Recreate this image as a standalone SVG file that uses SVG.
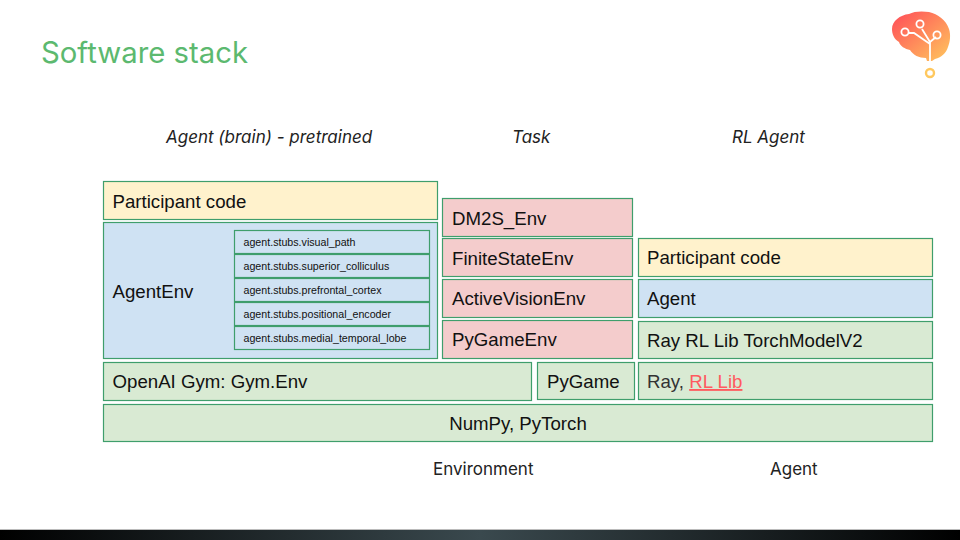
<svg xmlns="http://www.w3.org/2000/svg" width="960" height="540" viewBox="0 0 960 540">
<defs>
<style>
rect.b{stroke:#3f9e6c;stroke-width:1.2}
.y{fill:#fff2cc}.l{fill:#cfe2f3}.r{fill:#f4cccc}.g{fill:#d9ead3}
text{font-family:"Liberation Sans",Arial,sans-serif;fill:#111}
.t{font-size:18.67px}
.s{font-size:10.67px}
.i{font-family:Inter,"Open Sans",sans-serif;font-style:italic;font-size:17px;fill:#222}
.e{font-family:Inter,"Open Sans",sans-serif;font-size:17px;fill:#222}
</style>
<linearGradient id="bar" x1="0" x2="1" y1="0" y2="0"><stop offset="0" stop-color="#000"/><stop offset="0.5" stop-color="#3a494e"/><stop offset="1" stop-color="#000"/></linearGradient>
<linearGradient id="brain" x1="0" y1="0" x2="1" y2="1"><stop offset="0" stop-color="#ff4a58"/><stop offset="1" stop-color="#ffc85e"/></linearGradient>
</defs>
<rect width="960" height="540" fill="#fff"/>
<text x="41" y="63" style="font-family:Inter,'Open Sans',sans-serif;font-size:29.3px;fill:#5cb96f">Software stack</text>
<g id="logo">
<path d="M892 29C892 21 900 15 909 14C914 11 923 11 929 12C938 14 946 20 949 29C951 35 950 42 948 47C946 53 942 57 935 59L932 61L927 61L926 58C919 58 913 55 910 50C905 49 900 46 899 42C894 39 892 34 892 29Z" fill="url(#brain)"/>
<g fill="none" stroke="#fff" stroke-width="1.8">
<path d="M930 61V42L922 29M930 42L936 37M908 33H914L930 44"/>
<circle cx="905" cy="32" r="3.6"/><circle cx="920" cy="24" r="3.6"/><circle cx="937" cy="35" r="3.6"/>
</g>
<circle cx="930" cy="73" r="4" fill="none" stroke="#ffc85e" stroke-width="2.4"/>
</g>
<text class="i" x="166" y="143">Agent (brain) - pretrained</text>
<text class="i" x="512" y="143">Task</text>
<text class="i" x="732" y="143">RL Agent</text>
<g id="participant-left"><rect class="b y" x="103.500" y="181.500" width="334" height="38"/><text class="t" x="112.500" y="207.500">Participant code</text></g>
<g id="agentenv"><rect class="b l" x="103.500" y="222.500" width="334" height="136"/><text class="t" x="112.500" y="297.500">AgentEnv</text></g>
<g id="stub1"><rect class="b l" x="234.500" y="230.500" width="195" height="23"/><text class="s" x="243.500" y="246">agent.stubs.visual_path</text></g>
<g id="stub2"><rect class="b l" x="234.500" y="254.500" width="195" height="23"/><text class="s" x="243.500" y="270">agent.stubs.superior_colliculus</text></g>
<g id="stub3"><rect class="b l" x="234.500" y="278.500" width="195" height="23"/><text class="s" x="243.500" y="294">agent.stubs.prefrontal_cortex</text></g>
<g id="stub4"><rect class="b l" x="234.500" y="302.500" width="195" height="23"/><text class="s" x="243.500" y="318">agent.stubs.positional_encoder</text></g>
<g id="stub5"><rect class="b l" x="234.500" y="326.500" width="195" height="23"/><text class="s" x="243.500" y="342">agent.stubs.medial_temporal_lobe</text></g>
<g id="dm2s"><rect class="b r" x="442.500" y="198.500" width="190" height="38"/><text class="t" x="452" y="225">DM2S_Env</text></g>
<g id="finite"><rect class="b r" x="442.500" y="238.500" width="190" height="38"/><text class="t" x="452" y="265">FiniteStateEnv</text></g>
<g id="active"><rect class="b r" x="442.500" y="279.500" width="190" height="38"/><text class="t" x="452" y="305">ActiveVisionEnv</text></g>
<g id="pygameenv"><rect class="b r" x="442.500" y="320.500" width="190" height="38"/><text class="t" x="452" y="346">PyGameEnv</text></g>
<g id="participant-right"><rect class="b y" x="638.500" y="238.500" width="294" height="38"/><text class="t" x="647" y="264">Participant code</text></g>
<g id="agent"><rect class="b l" x="638.500" y="279.500" width="294" height="38"/><text class="t" x="647" y="305">Agent</text></g>
<g id="torchmodel"><rect class="b g" x="638.500" y="321.500" width="294" height="37"/><text class="t" x="647" y="347">Ray RL Lib TorchModelV2</text></g>
<g id="gym"><rect class="b g" x="103.500" y="362.500" width="428" height="38"/><text class="t" x="112.500" y="388">OpenAI Gym: Gym.Env</text></g>
<g id="pygame"><rect class="b g" x="537.500" y="362.500" width="97" height="37"/><text class="t" x="547" y="388">PyGame</text></g>
<g id="ray"><rect class="b g" x="638.500" y="362.500" width="294" height="37"/><text class="t" x="647" y="388"><tspan fill="#333">Ray, </tspan><tspan fill="#ff5a5f" text-decoration="underline">RL Lib</tspan></text></g>
<g id="numpy"><rect class="b g" x="103.500" y="404.500" width="829" height="37"/><text class="t" x="518" y="430" text-anchor="middle">NumPy, PyTorch</text></g>
<text class="e" x="433" y="475">Environment</text>
<text class="e" x="770" y="475">Agent</text>
<rect x="0" y="529" width="960" height="1" fill="#bbb"/>
<rect x="0" y="530" width="960" height="10" fill="url(#bar)"/>
<g id="connectors"></g>
</svg>
